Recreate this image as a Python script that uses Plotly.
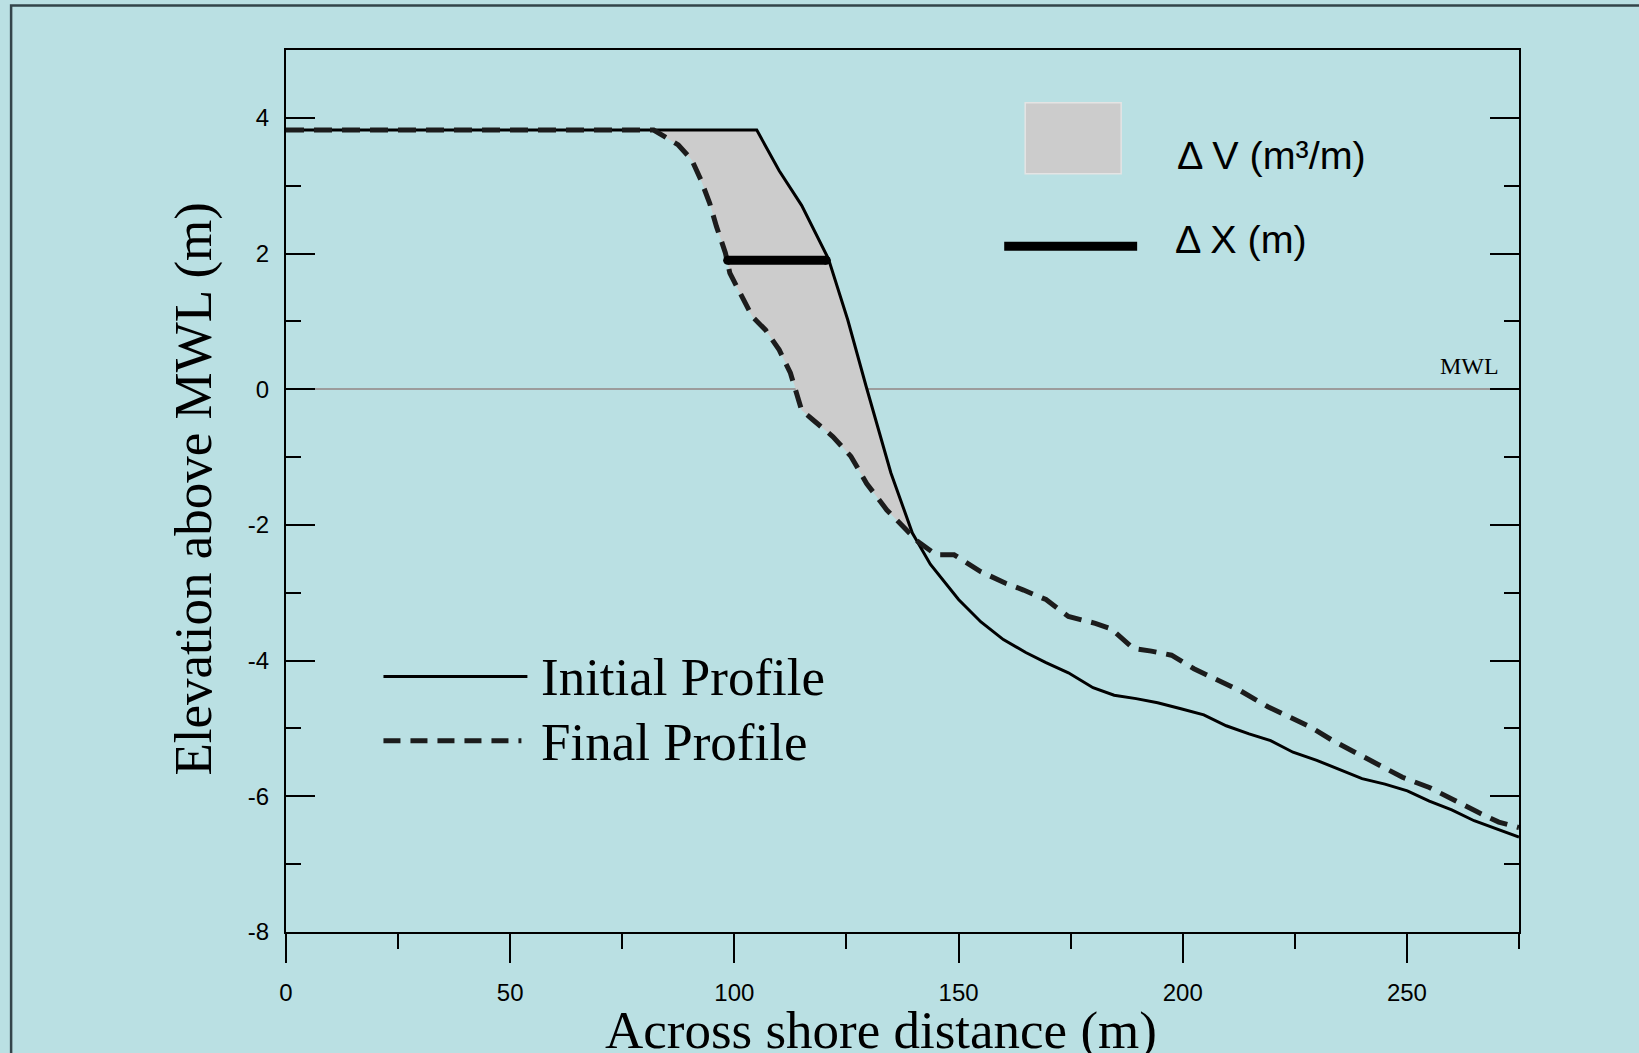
import plotly.graph_objects as go

# ---------------- data ----------------
x_initial = [0, 105, 110, 115, 121, 125.3, 129.4, 134.9, 139.7, 143.7, 150, 155, 160, 165,
             169.5, 174.5, 180, 184.7, 189.6, 194.4, 199.6, 204.7, 209.7, 214.8, 219.6,
             224.6, 229.9, 235.1, 240, 245.1, 250.1, 255, 260, 265, 270, 275]
y_initial = [3.82, 3.82, 3.22, 2.71, 1.92, 1.02, 0.04, -1.23, -2.12, -2.58, -3.10, -3.43,
             -3.69, -3.88, -4.03, -4.18, -4.40, -4.51, -4.56, -4.62, -4.71, -4.80, -4.96,
             -5.08, -5.18, -5.35, -5.47, -5.61, -5.74, -5.82, -5.92, -6.07, -6.20, -6.36,
             -6.48, -6.60]

x_final = [0, 82, 87.5, 90.5, 92.5, 94.5, 96, 98, 99, 100.5, 104, 107, 110, 112.5, 114, 115,
           117.5, 122, 126, 129.5, 134, 138.5, 141, 145, 149, 155, 160.5, 164.5, 169.5,
           174.5, 180.5, 184, 189, 193, 197.5, 202.5, 208, 213, 219, 224.5, 228.5, 233.5,
           239, 243.5, 249, 255, 260.5, 266, 270.5, 275]
y_final = [3.82, 3.82, 3.60, 3.38, 3.09, 2.74, 2.40, 2.01, 1.71, 1.51, 1.07, 0.87, 0.58,
           0.24, -0.06, -0.31, -0.45, -0.70, -0.99, -1.39, -1.78, -2.08, -2.25, -2.44,
           -2.44, -2.69, -2.86, -2.96, -3.10, -3.35, -3.45, -3.53, -3.82, -3.86, -3.92,
           -4.12, -4.29, -4.45, -4.68, -4.85, -4.98, -5.18, -5.37, -5.52, -5.72, -5.87,
           -6.06, -6.24, -6.38, -6.46]

# horizontal retreat (Delta X) measured at this elevation
dx_x = [98.5, 120.5]
dx_y = [1.9, 1.9]

# x-range over which the eroded volume (Delta V) is shaded
erosion_range = [82, 141]

x_ticks = [0, 50, 100, 150, 200, 250]
x_tick_labels = ["0", "50", "100", "150", "200", "250"]
y_ticks = [-8, -6, -4, -2, 0, 2, 4]
y_tick_labels = ["-8", "-6", "-4", "-2", "0", "2", "4"]

# ---------------- layout helpers ----------------
W, H = 1639, 1053
ML, MR, MT, MB = 285.5, 120, 49.5, 120.5
PW, PH = W - ML - MR, H - MT - MB


def px(x):
    return (x - ML) / PW


def py(y):
    return (H - MB - y) / PH


SERIF = "Liberation Serif, Times New Roman, serif"
SANS = "Liberation Sans, Arial, sans-serif"
BG = "#BAE0E3"

# eroded-volume polygon (final profile forward, initial profile back)
lo, hi = erosion_range
poly_x = [x for x in x_final if lo <= x <= hi] + [x for x in reversed(x_initial) if lo <= x <= hi]
poly_y = [y for x, y in zip(x_final, y_final) if lo <= x <= hi] + \
         [y for x, y in zip(reversed(x_initial), reversed(y_initial)) if lo <= x <= hi]

fig = go.Figure()
fig.add_trace(go.Scatter(x=poly_x, y=poly_y, fill="toself", fillcolor="#CCCCCC",
                         mode="lines", line=dict(width=0, color="rgba(0,0,0,0)"),
                         hoverinfo="skip", showlegend=False))
fig.add_trace(go.Scatter(x=x_initial, y=y_initial, mode="lines", name="Initial Profile",
                         line=dict(color="black", width=3), showlegend=False))
fig.add_trace(go.Scatter(x=x_final, y=y_final, mode="lines", name="Final Profile",
                         line=dict(color="#1c1c1c", width=5, dash="18px,10px"),
                         showlegend=False))
fig.add_trace(go.Scatter(x=dx_x, y=dx_y, mode="lines+markers", name="Delta X",
                         line=dict(color="black", width=9),
                         marker=dict(color="black", size=9, symbol="circle"),
                         showlegend=False))

axis_common = dict(showline=True, linecolor="black", linewidth=2, showgrid=False,
                   tickcolor="black", tickwidth=1.5, ticklen=29,
                   tickfont=dict(family=SANS, size=24, color="black"))

fig.update_xaxes(range=[0, 275], tickmode="array", tickvals=x_ticks, ticktext=x_tick_labels,
                 ticks="outside", mirror=True, zeroline=False, ticklabelstandoff=9,
                 minor=dict(dtick=25, tick0=0, ticks="outside", ticklen=15,
                            tickwidth=1.5, tickcolor="black"),
                 **axis_common)
fig.update_yaxes(range=[-8, 5], tickmode="array", tickvals=y_ticks, ticktext=y_tick_labels,
                 ticks="inside", mirror="ticks", zeroline=True, zerolinecolor="#9c9c9c",
                 zerolinewidth=2, ticklabelstandoff=10,
                 minor=dict(dtick=1, tick0=0, ticks="inside", ticklen=15,
                            tickwidth=1.5, tickcolor="black"),
                 **axis_common)

annotations = [
    dict(text="Elevation above MWL (m)", x=px(192), y=py(489), textangle=-90,
         font=dict(family=SERIF, size=53, color="black"), xanchor="center", yanchor="middle"),
    dict(text="Across shore distance (m)", x=px(881), y=py(1031),
         font=dict(family=SERIF, size=53, color="black"), xanchor="center", yanchor="middle"),
    dict(text="MWL", x=px(1501), y=py(366),
         font=dict(family=SERIF, size=24, color="black"), xanchor="right", yanchor="middle"),
    dict(text="Δ V (m³/m)", x=px(1175), y=py(154.5),
         font=dict(family=SANS, size=39.5, color="black"), xanchor="left", yanchor="middle"),
    dict(text="Δ X (m)", x=px(1173), y=py(239),
         font=dict(family=SANS, size=39.5, color="black"), xanchor="left", yanchor="middle"),
    dict(text="Initial Profile", x=px(539), y=py(677),
         font=dict(family=SERIF, size=53, color="black"), xanchor="left", yanchor="middle"),
    dict(text="Final Profile", x=px(539), y=py(742),
         font=dict(family=SERIF, size=53, color="black"), xanchor="left", yanchor="middle"),
]
for a in annotations:
    a.update(xref="paper", yref="paper", showarrow=False)

shapes = [
    # outer frame
    dict(type="rect", xref="paper", yref="paper", x0=px(10.5), y0=py(5), x1=px(1800),
         y1=py(1200), line=dict(color="#33444a", width=2.5), fillcolor="rgba(0,0,0,0)",
         layer="below"),
    # Delta V key
    dict(type="rect", xref="paper", yref="paper", x0=px(1025), y0=py(102.3), x1=px(1121),
         y1=py(173.3), fillcolor="#CCCCCC", line=dict(color="#E4E4E4", width=1.5)),
    # Delta X key
    dict(type="line", xref="paper", yref="paper", x0=px(1004), y0=py(246), x1=px(1137),
         y1=py(246), line=dict(color="black", width=9)),
    # profile keys
    dict(type="line", xref="paper", yref="paper", x0=px(383), y0=py(676.7), x1=px(527),
         y1=py(676.7), line=dict(color="black", width=3)),
    dict(type="line", xref="paper", yref="paper", x0=px(383), y0=py(741), x1=px(521),
         y1=py(741), line=dict(color="#1c1c1c", width=5, dash="17px,10px")),
]

fig.update_layout(
    width=W, height=H,
    margin=dict(l=ML, r=MR, t=MT, b=MB, pad=0),
    paper_bgcolor=BG, plot_bgcolor=BG,
    showlegend=False,
    annotations=annotations,
    shapes=shapes,
)

fig.write_html("out.html")
